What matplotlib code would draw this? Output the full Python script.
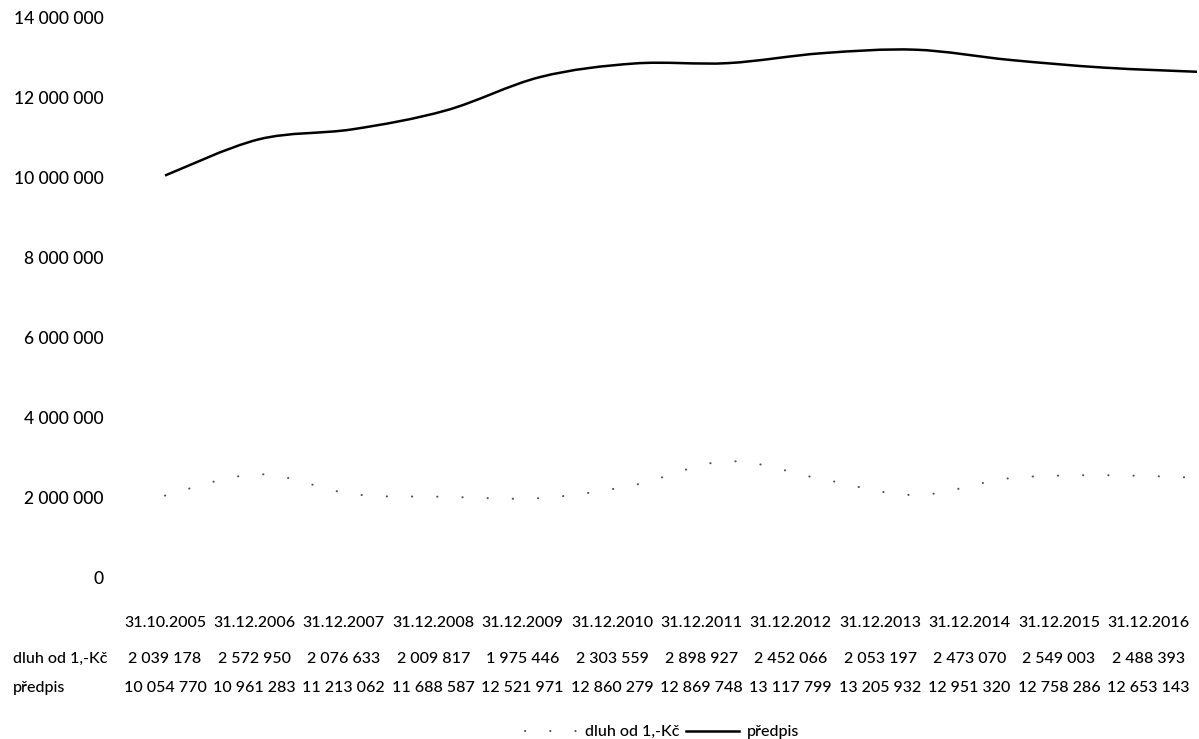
import numpy as np
import matplotlib
matplotlib.use("Agg")
import matplotlib.pyplot as plt
from matplotlib.path import Path
from matplotlib.patches import PathPatch
from matplotlib.lines import Line2D

plt.rcParams["font.family"] = ["Lato", "DejaVu Sans"]
plt.rcParams["font.weight"] = "medium"

# data
dates = ["31.10.2005", "31.12.2006", "31.12.2007", "31.12.2008", "31.12.2009", "31.12.2010",
         "31.12.2011", "31.12.2012", "31.12.2013", "31.12.2014", "31.12.2015", "31.12.2016"]
dluh = [2039178, 2572950, 2076633, 2009817, 1975446, 2303559,
        2898927, 2452066, 2053197, 2473070, 2549003, 2488393]
predpis = [10054770, 10961283, 11213062, 11688587, 12521971, 12860279,
           12869748, 13117799, 13205932, 12951320, 12758286, 12653143]
series_names = ["dluh od 1,-Kč", "předpis"]
yticks = [0, 2e6, 4e6, 6e6, 8e6, 10e6, 12e6, 14e6]

W, H = 1199, 739
FS = 11.5


def fmt(v):
    return f"{int(v):,}".replace(",", " ")


def smooth_path(xs, ys):
    # Excel-like smoothed line (cubic Bezier through the data points)
    pts = np.column_stack([xs, ys]).astype(float)
    n = len(pts)
    verts = [tuple(pts[0])]
    codes = [Path.MOVETO]
    for i in range(n - 1):
        p0 = pts[i - 1] if i > 0 else pts[i]
        p1, p2 = pts[i], pts[i + 1]
        p3 = pts[i + 2] if i + 2 < n else pts[i + 1]
        c1 = p1 + (p2 - p0) / 6
        c2 = p2 - (p3 - p1) / 6
        verts += [tuple(c1), tuple(c2), tuple(p2)]
        codes += [Path.CURVE4] * 3
    return Path(verts, codes)


fig = plt.figure(figsize=(W / 100, H / 100), dpi=100)
ax = fig.add_axes([165 / W, 1 - 577 / H, 1032 / W, 559 / H])

x = np.arange(len(dates))
dot_style = dict(color="#555555", lw=1.5, linestyle=(0, (0.1, 12)))
line_style = dict(color="black", lw=1.8, linestyle="-")

ax.add_patch(PathPatch(smooth_path(x, dluh), fill=False, capstyle="round",
                       clip_on=False, **dot_style))
ax.add_patch(PathPatch(smooth_path(x, predpis), fill=False, clip_on=False, **line_style))

ax.set_xlim(0, len(dates) - 1)
ax.set_ylim(0, 14e6)
ax.set_xticks([])
ax.set_yticks(yticks)
ax.set_yticklabels([fmt(v) for v in yticks], fontsize=12.5)
ax.tick_params(axis="y", length=0, pad=44)
for s in ax.spines.values():
    s.set_visible(False)

# data table under the chart
col_x = [(165 + 89.4 * i) / W for i in range(len(dates))]
rows = [(1 - 623 / H, None, dates),
        (1 - 659 / H, series_names[0], [fmt(v) for v in dluh]),
        (1 - 688 / H, series_names[1], [fmt(v) for v in predpis])]
for y, label, cells in rows:
    if label:
        fig.text(13 / W, y, label, fontsize=FS, ha="left", va="center")
    for cx, c in zip(col_x, cells):
        fig.text(cx, y, c, fontsize=FS, ha="center", va="center")

handles = [Line2D([], [], dash_capstyle="round", **dot_style),
           Line2D([], [], **line_style)]
fig.legend(handles, series_names, loc="center", bbox_to_anchor=(662 / W, 1 - 732 / H),
           ncol=2, frameon=False, fontsize=FS, handlelength=3.3,
           handletextpad=0.5, columnspacing=0.4)

fig.savefig("out.png", dpi=100)
